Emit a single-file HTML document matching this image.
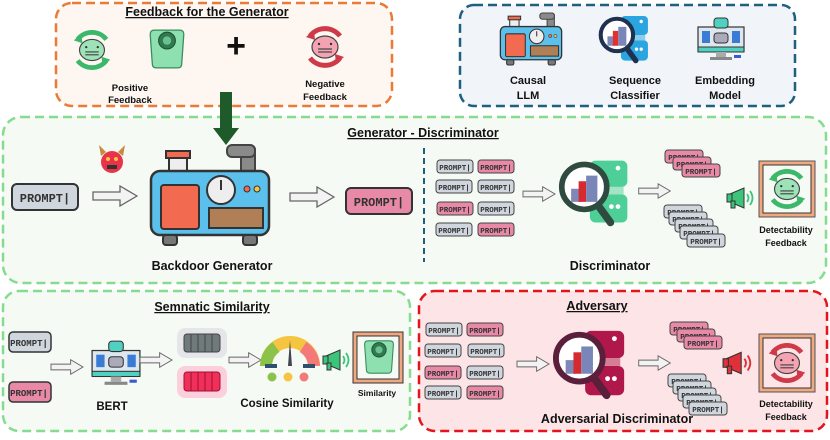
<!DOCTYPE html>
<html><head><meta charset="utf-8"><style>
html,body{margin:0;padding:0;background:#fff;width:830px;height:440px;overflow:hidden}
svg{display:block}
.t{font-family:"Liberation Sans",sans-serif;font-weight:bold;fill:#111}
.p{font-family:"Liberation Mono",monospace;font-weight:bold;fill:#333}
</style></head><body>
<svg width="830" height="440" viewBox="0 0 830 440" xmlns="http://www.w3.org/2000/svg">
<defs>
<symbol id="arr" viewBox="0 0 46 22"><path d="M1,7 H28 V1 L45,11 L28,21 V15 H1 Z" fill="#f3f3f3" stroke="#666" stroke-width="1.3"/></symbol>
<symbol id="gen" viewBox="0 0 126 104">
 <rect x="94" y="2" width="14" height="30" rx="5" fill="#8a8a8a" stroke="#444" stroke-width="2"/>
 <rect x="80" y="2" width="28" height="12" rx="5" fill="#8a8a8a" stroke="#444" stroke-width="2"/>
 <rect x="22" y="14" width="18" height="16" fill="#eee" stroke="#333" stroke-width="2"/>
 <rect x="19" y="8" width="24" height="7" fill="#f26b50" stroke="#333" stroke-width="2"/>
 <rect x="4" y="28" width="118" height="64" rx="9" fill="#5bc0eb" stroke="#333" stroke-width="2.5"/>
 <rect x="14" y="42" width="38" height="44" rx="3" fill="#f26b50" stroke="#333" stroke-width="2"/>
 <circle cx="74" cy="47" r="14" fill="#eee" stroke="#333" stroke-width="2"/>
 <line x1="74" y1="47" x2="74" y2="37" stroke="#333" stroke-width="2"/>
 <circle cx="100" cy="46" r="3" fill="#f26b50" stroke="#333"/><circle cx="110" cy="46" r="3" fill="#f5c542" stroke="#333"/>
 <rect x="62" y="65" width="54" height="20" fill="#b07f55" stroke="#333" stroke-width="2"/>
 <rect x="16" y="92" width="14" height="10" rx="3" fill="#777" stroke="#333" stroke-width="2"/>
 <rect x="96" y="92" width="14" height="10" rx="3" fill="#777" stroke="#333" stroke-width="2"/>
</symbol>
<symbol id="disc" viewBox="0 0 80 80">
 <rect x="34" y="6" width="40" height="28" rx="6" fill="var(--s)"/>
 <rect x="34" y="42" width="40" height="30" rx="6" fill="var(--s)"/>
 <rect x="40" y="34" width="30" height="8" fill="var(--s)" opacity=".5"/>
 <circle cx="64" cy="55" r="2.5" fill="#fff"/><circle cx="57" cy="55" r="2.5" fill="#fff"/><circle cx="64" cy="14" r="2.5" fill="#fff"/>
 <line x1="40" y1="50" x2="56" y2="72" stroke="var(--r)" stroke-width="8" stroke-linecap="round"/>
 <circle cx="28" cy="34" r="24" fill="#fff" stroke="var(--r)" stroke-width="6"/>
 <rect x="14" y="36" width="10" height="14" fill="#8088b8"/><rect x="22" y="28" width="8" height="22" fill="var(--b)"/><rect x="30" y="22" width="12" height="28" fill="#7a85b8"/>
</symbol>
<symbol id="cyc" viewBox="0 0 50 50">
 <path d="M40,14 A19,19 0 0 0 10,14" fill="none" stroke="var(--c)" stroke-width="5"/>
 <path d="M6,15 L14,8 L15,18 Z" fill="var(--c)"/>
 <path d="M10,36 A19,19 0 0 0 40,36" fill="none" stroke="var(--c)" stroke-width="5"/>
 <path d="M44,35 L36,42 L35,32 Z" fill="var(--c)"/>
 <ellipse cx="25" cy="25" rx="13" ry="11" fill="var(--f)" stroke="#444" stroke-width="1.2"/>
 <line x1="18" y1="27" x2="32" y2="27" stroke="#444" stroke-width="1.2"/><line x1="18" y1="30" x2="32" y2="30" stroke="#444" stroke-width="1.2"/>
 <circle cx="19" cy="22" r="1.2" fill="#333"/><circle cx="31" cy="22" r="1.2" fill="#333"/>
</symbol>
<symbol id="scale" viewBox="0 0 40 40">
 <path d="M4,6 Q4,2 8,2 H32 Q36,2 36,6 L34,34 Q34,38 30,38 H10 Q6,38 6,34 Z" fill="#8fe0b0" stroke="#3a8a5a" stroke-width="1.2"/>
 <circle cx="20" cy="12" r="8" fill="#2f7a4f" stroke="#1f4f33"/><circle cx="20" cy="12" r="4" fill="#6cc08f"/>
</symbol>
<symbol id="mega" viewBox="0 0 30 24">
 <path d="M4,8 L18,2 V22 L4,16 Z" fill="var(--m)" stroke="#333" stroke-width="1"/>
 <rect x="1" y="8" width="5" height="8" fill="var(--m)" stroke="#333"/><rect x="5" y="15" width="4" height="7" fill="var(--m)" stroke="#333"/>
 <path d="M21,8 Q24,12 21,16 M24,5 Q29,12 24,19" fill="none" stroke="var(--m)" stroke-width="1.8"/>
</symbol>
<symbol id="pc" viewBox="0 0 50 44">
 <rect x="2" y="10" width="46" height="24" fill="#dfe7ee" stroke="#333" stroke-width="1.2"/>
 <rect x="2" y="30" width="46" height="5" fill="#4fd0c0" stroke="#333"/>
 <rect x="20" y="35" width="10" height="5" fill="#aaa"/><rect x="14" y="40" width="22" height="3" fill="#888"/>
 <rect x="6" y="14" width="8" height="12" fill="#3a7bd5"/><rect x="36" y="14" width="8" height="12" fill="#3a7bd5"/>
 <rect x="18" y="16" width="14" height="10" rx="3" fill="#aab" stroke="#333"/>
 <rect x="18" y="1" width="14" height="10" rx="3" fill="#4fd0c0" stroke="#333"/>
 <rect x="38" y="38" width="7" height="3" fill="#3a5ad5"/>
</symbol>
</defs>

<!-- Feedback box -->
<rect x="56" y="3" width="336" height="103" rx="16" fill="#fdf6f1" stroke="#ec7a35" stroke-width="2.5" stroke-dasharray="9,5"/>
<text x="207" y="16" class="t" font-size="12.5" text-anchor="middle" text-decoration="underline">Feedback for the Generator</text>
<use href="#cyc" x="68" y="26" width="48" height="48" style="--c:#3cb86a;--f:#9ee3b8"/>
<use href="#scale" x="146" y="28" width="42" height="42"/>
<text x="236" y="57" class="t" font-size="34" text-anchor="middle">+</text>
<use href="#cyc" x="300" y="22" width="50" height="50" style="--c:#cf3a48;--f:#f4a3b3"/>
<text x="130" y="91" class="t" font-size="9.5" text-anchor="middle">Positive</text>
<text x="130" y="103" class="t" font-size="9.5" text-anchor="middle">Feedback</text>
<text x="325" y="87" class="t" font-size="9.5" text-anchor="middle">Negative</text>
<text x="325" y="100" class="t" font-size="9.5" text-anchor="middle">Feedback</text>

<!-- Models box -->
<rect x="460" y="5" width="335" height="101" rx="14" fill="#f1f4f8" stroke="#1f5f80" stroke-width="2.5" stroke-dasharray="9,5"/>
<use href="#gen" x="498" y="12" width="66" height="54"/>
<use href="#disc" x="598" y="12" width="54" height="54" style="--s:#2aa5e0;--r:#1f3050;--b:#e03030"/>
<use href="#pc" x="696" y="16" width="50" height="46"/>
<text x="528" y="84" class="t" font-size="11" text-anchor="middle">Causal</text>
<text x="528" y="99" class="t" font-size="11" text-anchor="middle">LLM</text>
<text x="635" y="84" class="t" font-size="11" text-anchor="middle">Sequence</text>
<text x="635" y="99" class="t" font-size="11" text-anchor="middle">Classifier</text>
<text x="725" y="84" class="t" font-size="11" text-anchor="middle">Embedding</text>
<text x="725" y="99" class="t" font-size="11" text-anchor="middle">Model</text>

<!-- Generator - Discriminator -->
<rect x="3" y="117" width="823" height="166" rx="18" fill="#f5fbf4" stroke="#86dc8e" stroke-width="2.5" stroke-dasharray="9,5"/>
<text x="423" y="137" class="t" font-size="12.5" text-anchor="middle" text-decoration="underline">Generator - Discriminator</text>
<path d="M220,92 V128 H213 L226,145 L239,128 H232 V92 Z" fill="#1f5a2a"/>
<circle cx="112" cy="162" r="11" fill="#e8344a"/><path d="M101,156 L99,145 L106,152 Z M123,156 L125,145 L118,152 Z" fill="#c98a3a"/>
<rect x="107" y="165" width="10" height="4" fill="#333"/><circle cx="108" cy="159" r="2" fill="#f5c542"/><circle cx="116" cy="159" r="2" fill="#f5c542"/>
<rect x="12" y="184" width="66" height="26" rx="5" fill="#d0d6dd" stroke="#333" stroke-width="2"/>
<text x="45" y="202" class="p" font-size="12" text-anchor="middle">PROMPT|</text>
<use href="#arr" x="92" y="185" width="46" height="22"/>
<use href="#gen" x="147" y="143" width="126" height="104"/>
<text x="212" y="270" class="t" font-size="12.5" text-anchor="middle">Backdoor Generator</text>
<use href="#arr" x="289" y="186" width="46" height="22"/>
<rect x="346" y="188" width="66" height="26" rx="5" fill="#e889a8" stroke="#333" stroke-width="2"/>
<text x="379" y="206" class="p" font-size="12" text-anchor="middle">PROMPT|</text>
<line x1="424" y1="148" x2="424" y2="262" stroke="#1f5f80" stroke-width="2" stroke-dasharray="6,4"/>
<g font-size="7.5" class="p">
<rect x="437" y="160" width="36" height="13" rx="3" fill="#d0d6dd" stroke="#444"/><text x="455" y="170" text-anchor="middle" class="p">PROMPT|</text>
<rect x="478" y="160" width="36" height="13" rx="3" fill="#e889a8" stroke="#444"/><text x="496" y="170" text-anchor="middle" class="p">PROMPT|</text>
<rect x="436" y="180" width="36" height="13" rx="3" fill="#d0d6dd" stroke="#444"/><text x="454" y="190" text-anchor="middle" class="p">PROMPT|</text>
<rect x="478" y="180" width="36" height="13" rx="3" fill="#d0d6dd" stroke="#444"/><text x="496" y="190" text-anchor="middle" class="p">PROMPT|</text>
<rect x="437" y="202" width="36" height="13" rx="3" fill="#e889a8" stroke="#444"/><text x="455" y="212" text-anchor="middle" class="p">PROMPT|</text>
<rect x="478" y="202" width="36" height="13" rx="3" fill="#d0d6dd" stroke="#444"/><text x="496" y="212" text-anchor="middle" class="p">PROMPT|</text>
<rect x="436" y="223" width="36" height="13" rx="3" fill="#d0d6dd" stroke="#444"/><text x="454" y="233" text-anchor="middle" class="p">PROMPT|</text>
<rect x="478" y="223" width="36" height="13" rx="3" fill="#e889a8" stroke="#444"/><text x="496" y="233" text-anchor="middle" class="p">PROMPT|</text>
</g>
<use href="#arr" x="522" y="186" width="34" height="16"/>
<use href="#disc" x="558" y="155" width="75" height="75" style="--s:#4fcf98;--r:#2f4a3f;--b:#d42a30"/>
<use href="#arr" x="638" y="183" width="33" height="16"/>
<g font-size="7.5">
<rect x="665" y="150" width="38" height="13" rx="3" fill="#e889a8" stroke="#444"/><text x="684" y="160" text-anchor="middle" class="p">PROMPT|</text>
<rect x="673" y="157" width="38" height="13" rx="3" fill="#e889a8" stroke="#444"/><text x="692" y="167" text-anchor="middle" class="p">PROMPT|</text>
<rect x="682" y="164" width="38" height="13" rx="3" fill="#e889a8" stroke="#444"/><text x="701" y="174" text-anchor="middle" class="p">PROMPT|</text>
<rect x="664" y="205" width="38" height="13" rx="3" fill="#d0d6dd" stroke="#444"/><text x="683" y="215" text-anchor="middle" class="p">PROMPT|</text>
<rect x="669" y="212" width="38" height="13" rx="3" fill="#d0d6dd" stroke="#444"/><text x="688" y="222" text-anchor="middle" class="p">PROMPT|</text>
<rect x="675" y="219" width="38" height="13" rx="3" fill="#d0d6dd" stroke="#444"/><text x="694" y="229" text-anchor="middle" class="p">PROMPT|</text>
<rect x="680" y="226" width="38" height="13" rx="3" fill="#d0d6dd" stroke="#444"/><text x="699" y="236" text-anchor="middle" class="p">PROMPT|</text>
<rect x="687" y="234" width="38" height="13" rx="3" fill="#d0d6dd" stroke="#444"/><text x="706" y="244" text-anchor="middle" class="p">PROMPT|</text>
</g>
<use href="#mega" x="726" y="186" width="30" height="24" style="--m:#3cc47a"/>
<rect x="759" y="161" width="56" height="56" fill="#f0a880" stroke="#555"/><rect x="763" y="165" width="48" height="48" fill="#f5fbf4" stroke="#333"/>
<use href="#cyc" x="763" y="165" width="48" height="48" style="--c:#3cb86a;--f:#9ee3b8"/>
<text x="786" y="233" class="t" font-size="9" text-anchor="middle">Detectability</text>
<text x="786" y="246" class="t" font-size="9" text-anchor="middle">Feedback</text>
<text x="610" y="270" class="t" font-size="12.5" text-anchor="middle">Discriminator</text>

<!-- Semantic Similarity -->
<rect x="3" y="291" width="407" height="140" rx="16" fill="#f5fbf4" stroke="#86dc8e" stroke-width="2.5" stroke-dasharray="9,5"/>
<text x="212" y="311" class="t" font-size="12.5" text-anchor="middle" text-decoration="underline">Semnatic Similarity</text>
<rect x="9" y="332" width="42" height="20" rx="4" fill="#d0d6dd" stroke="#333" stroke-width="1.5"/><text x="29" y="346" class="p" font-size="9" text-anchor="middle">PROMPT|</text>
<rect x="9" y="382" width="42" height="20" rx="4" fill="#e889a8" stroke="#333" stroke-width="1.5"/><text x="29" y="396" class="p" font-size="9" text-anchor="middle">PROMPT|</text>
<use href="#arr" x="50" y="359" width="34" height="16"/>
<use href="#pc" x="90" y="340" width="52" height="46"/>
<text x="112" y="410" class="t" font-size="11.5" text-anchor="middle">BERT</text>
<use href="#arr" x="139" y="352" width="34" height="16"/>
<rect x="177" y="328" width="50" height="30" rx="8" fill="#e4e6ea"/>
<rect x="184" y="334" width="36" height="18" rx="3" fill="#6f7a7c" stroke="#444"/>
<path d="M191,334V352M198,334V352M205,334V352M212,334V352" stroke="#444"/>
<rect x="177" y="366" width="50" height="32" rx="8" fill="#fbd0dc"/>
<rect x="184" y="372" width="36" height="19" rx="3" fill="#f0305a" stroke="#a01030"/>
<path d="M191,372V391M198,372V391M205,372V391M212,372V391" stroke="#a01030"/>
<use href="#arr" x="228" y="352" width="34" height="16"/>
<path d="M266,366 A24,24 0 0 1 314,366" fill="none" stroke="#f5c542" stroke-width="12"/>
<path d="M266,366 A24,24 0 0 1 276,347" fill="none" stroke="#8bc34a" stroke-width="12"/>
<path d="M303,347 A24,24 0 0 1 314,366" fill="none" stroke="#f47a7a" stroke-width="12"/>
<path d="M288,366 L290,340 L292,366 Z" fill="#445"/>
<rect x="265" y="364" width="12" height="4" fill="#2f4f6f"/><rect x="303" y="364" width="12" height="4" fill="#2f4f6f"/>
<circle cx="272" cy="377" r="4.5" fill="#8bc34a"/><circle cx="288" cy="377" r="4.5" fill="#f5c542"/><circle cx="304" cy="377" r="4.5" fill="#f47a7a"/>
<text x="287" y="407" class="t" font-size="11.5" text-anchor="middle">Cosine Similarity</text>
<use href="#mega" x="322" y="348" width="30" height="24" style="--m:#3cc47a"/>
<rect x="353" y="332" width="50" height="51" fill="#f0a880" stroke="#333"/><rect x="357" y="336" width="42" height="43" fill="#f5fbf4" stroke="#333"/>
<use href="#scale" x="361" y="338" width="36" height="38"/>
<text x="377" y="396" class="t" font-size="8.5" text-anchor="middle">Similarity</text>

<!-- Adversary -->
<rect x="419" y="291" width="408" height="140" rx="16" fill="#fde4e6" stroke="#e3141b" stroke-width="2.5" stroke-dasharray="9,5"/>
<text x="597" y="310" class="t" font-size="12.5" text-anchor="middle" text-decoration="underline">Adversary</text>
<g font-size="7.5">
<rect x="426" y="323" width="36" height="13" rx="3" fill="#d0d6dd" stroke="#444"/><text x="444" y="333" text-anchor="middle" class="p">PROMPT|</text>
<rect x="467" y="323" width="36" height="13" rx="3" fill="#e889a8" stroke="#444"/><text x="485" y="333" text-anchor="middle" class="p">PROMPT|</text>
<rect x="425" y="344" width="36" height="13" rx="3" fill="#d0d6dd" stroke="#444"/><text x="443" y="354" text-anchor="middle" class="p">PROMPT|</text>
<rect x="468" y="344" width="36" height="13" rx="3" fill="#d0d6dd" stroke="#444"/><text x="486" y="354" text-anchor="middle" class="p">PROMPT|</text>
<rect x="425" y="366" width="36" height="13" rx="3" fill="#e889a8" stroke="#444"/><text x="443" y="376" text-anchor="middle" class="p">PROMPT|</text>
<rect x="467" y="366" width="36" height="13" rx="3" fill="#d0d6dd" stroke="#444"/><text x="485" y="376" text-anchor="middle" class="p">PROMPT|</text>
<rect x="425" y="386" width="36" height="13" rx="3" fill="#d0d6dd" stroke="#444"/><text x="443" y="396" text-anchor="middle" class="p">PROMPT|</text>
<rect x="467" y="386" width="36" height="13" rx="3" fill="#e889a8" stroke="#444"/><text x="485" y="396" text-anchor="middle" class="p">PROMPT|</text>
</g>
<use href="#arr" x="516" y="356" width="34" height="16"/>
<use href="#disc" x="552" y="325" width="78" height="78" style="--s:#b0174a;--r:#5a1f3a;--b:#d42a30"/>
<text x="617" y="423" class="t" font-size="12.5" text-anchor="middle">Adversarial Discriminator</text>
<use href="#arr" x="638" y="355" width="33" height="16"/>
<g font-size="7.5">
<rect x="670" y="322" width="38" height="13" rx="3" fill="#e889a8" stroke="#444"/><text x="689" y="332" text-anchor="middle" class="p">PROMPT|</text>
<rect x="677" y="329" width="38" height="13" rx="3" fill="#e889a8" stroke="#444"/><text x="696" y="339" text-anchor="middle" class="p">PROMPT|</text>
<rect x="684" y="336" width="38" height="13" rx="3" fill="#e889a8" stroke="#444"/><text x="703" y="346" text-anchor="middle" class="p">PROMPT|</text>
<rect x="668" y="374" width="38" height="13" rx="3" fill="#d0d6dd" stroke="#444"/><text x="687" y="384" text-anchor="middle" class="p">PROMPT|</text>
<rect x="673" y="381" width="38" height="13" rx="3" fill="#d0d6dd" stroke="#444"/><text x="692" y="391" text-anchor="middle" class="p">PROMPT|</text>
<rect x="678" y="388" width="38" height="13" rx="3" fill="#d0d6dd" stroke="#444"/><text x="697" y="398" text-anchor="middle" class="p">PROMPT|</text>
<rect x="683" y="395" width="38" height="13" rx="3" fill="#d0d6dd" stroke="#444"/><text x="702" y="405" text-anchor="middle" class="p">PROMPT|</text>
<rect x="689" y="402" width="38" height="13" rx="3" fill="#d0d6dd" stroke="#444"/><text x="708" y="412" text-anchor="middle" class="p">PROMPT|</text>
</g>
<use href="#mega" x="722" y="350" width="32" height="26" style="--m:#e0303a"/>
<rect x="759" y="334" width="56" height="58" fill="#f0a880" stroke="#555"/><rect x="763" y="338" width="48" height="50" fill="#fde4e6" stroke="#333"/>
<use href="#cyc" x="763" y="339" width="48" height="48" style="--c:#cf3a48;--f:#f4a3b3"/>
<text x="786" y="407" class="t" font-size="9" text-anchor="middle">Detectability</text>
<text x="786" y="420" class="t" font-size="9" text-anchor="middle">Feedback</text>
</svg>
</body></html>
